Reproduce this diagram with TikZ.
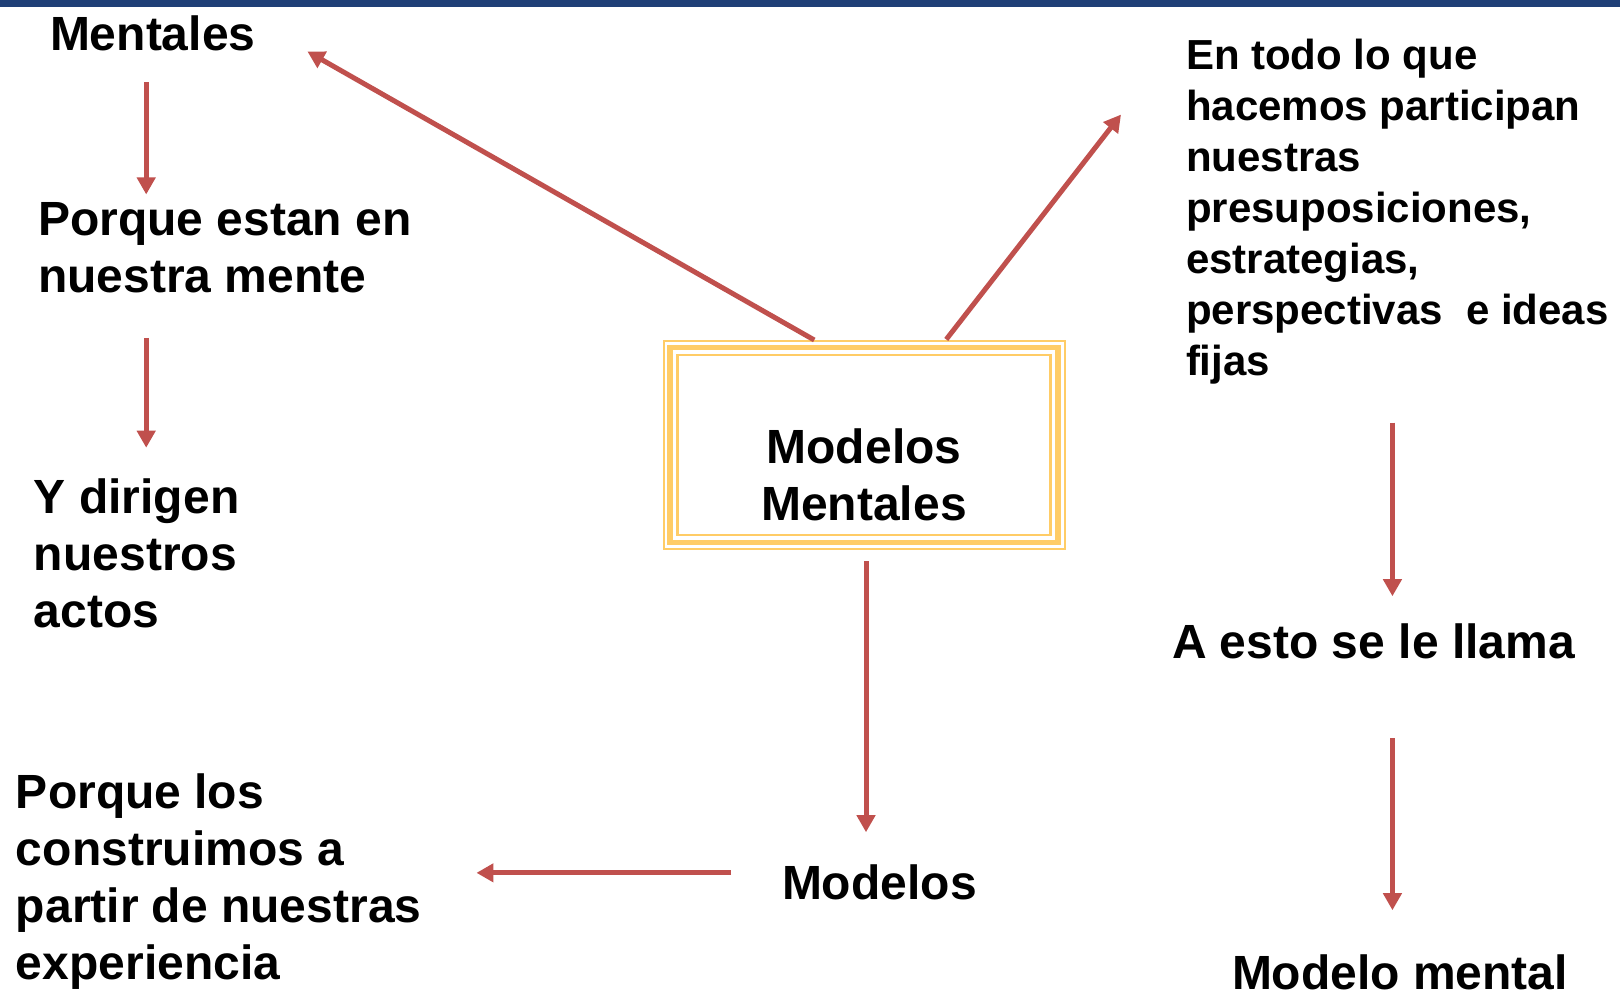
\documentclass[tikz,border=0pt]{standalone}
\usepackage{fontspec}
\setmainfont{Liberation Sans}
\usetikzlibrary{arrows.meta}

\definecolor{flechacol}{HTML}{C0504D}
\definecolor{oro}{HTML}{FFCC66}
\definecolor{barra}{HTML}{1F3F77}

\begin{document}
\begin{tikzpicture}[x=1pt,y=-1pt,
    texto/.style={inner sep=0pt,outer sep=0pt,anchor=base west,align=left,
      font=\fontsize{48}{57}\selectfont\bfseries},
    textochico/.style={texto,font=\fontsize{42}{51}\selectfont\bfseries},
    flecha/.style={draw=flechacol,line width=5pt,-{Triangle[length=17pt,width=18pt]}},
    caja/.style={draw=oro,line width=2pt,inner sep=0pt,outer sep=0pt,
      minimum width=401pt,minimum height=208pt}]
  \useasboundingbox (0,0) rectangle (1620,990);
  \fill[white] (0,0) rectangle (1620,990);
  \fill[barra] (0,0) rectangle (1620,7);

  % multi-line nodes sit on the baseline of their last line
  \node[texto] (mentales) at (50,51) {Mentales};
  \node[texto] (porque) at (38,292.5) {Porque estan en\\nuestra mente};
  \node[texto] (dirigen) at (34,627.5) {Y dirigen\\nuestros\\actos};
  \node[caja] (caja) at (864,445) {};
  \node[texto,anchor=base,align=center] (modmen) at (864,520) {Modelos\\Mentales};
  \node[textochico] (entodo) at (1186,375) {En todo lo que\\hacemos participan\\nuestras\\presuposiciones,\\estrategias,\\perspectivas\ \ e ideas\\fijas};
  \node[texto] (llama) at (1172,658) {A esto se le llama};
  \node[texto] (modelomental) at (1232,989) {Modelo mental};
  \node[texto] (modelos) at (782,899) {Modelos};
  \node[texto] (construimos) at (16,979.5) {Porque los\\construimos a\\partir de nuestras\\experiencia};

  \draw[oro,line width=5.5pt] ([shift={(6.5pt,-6.5pt)}]caja.north west) rectangle ([shift={(-6.5pt,6.5pt)}]caja.south east);
  \draw[oro,line width=2.5pt] ([shift={(14pt,-14pt)}]caja.north west) rectangle ([shift={(-14pt,14pt)}]caja.south east);

  \draw[flecha,shorten <=31pt,shorten >=8pt] ([xshift=-6.5pt]mentales.south) -- ([xshift=-6.5pt]mentales.south |- porque.north);
  \draw[flecha,shorten <=45pt,shorten >=31pt] ([xshift=-6.5pt]mentales.south |- porque.south) -- ([xshift=-6.5pt]mentales.south |- dirigen.north);
  \draw[flecha,shorten <=2pt] ([xshift=-48pt]caja.north) -- ([xshift=52pt]mentales.south east);
  \draw[flecha,shorten <=2pt] ([xshift=81pt]caja.north) -- ([shift={(-65pt,-76pt)}]entodo.north west);
  \draw[flecha,shorten <=12pt,shorten >=32pt] ([xshift=2pt]caja.south) -- ([xshift=2pt]caja.south |- modelos.north);
  \draw[flecha,shorten <=51pt,shorten >=55pt] ([yshift=9pt]modelos.west) -- ([yshift=9pt]modelos.west -| construimos.east);
  \draw[flecha,shorten <=39pt,shorten >=27pt] ([xshift=19pt]llama.north |- entodo.south) -- ([xshift=19pt]llama.north);
  \draw[flecha,shorten <=80pt,shorten >=44pt] ([xshift=19pt]llama.south) -- ([xshift=19pt]llama.north |- modelomental.north);
\end{tikzpicture}
\end{document}
